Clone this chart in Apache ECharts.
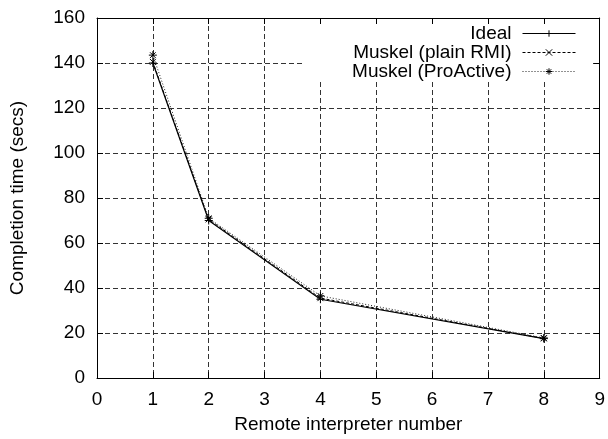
<!DOCTYPE html>
<html>
<head>
<meta charset="utf-8">
<script src="https://cdn.jsdelivr.net/npm/echarts@6/dist/echarts.min.js"></script>
<style>
  html, body { margin: 0; padding: 0; background: #fff; }
  #chart { width: 608px; height: 439px; }
</style>
</head>
<body>
<div id="chart"></div>
<script>
// remote interpreters used
var interpreters = [1, 2, 4, 8]
// completion times (secs)
var idealTimes = [140, 70, 35, 17.5]
var rmiTimes = [140.5, 70.5, 35.5, 17.6]
var proActiveTimes = [143.5, 71, 36.5, 17.8]

var seriesNames = ['Ideal', 'Muskel (plain RMI)', 'Muskel (ProActive)']

var FONT = '"Liberation Sans", Arial, Helvetica, sans-serif'
var FS = 19

function pairs(xs, ys) {
  return xs.map(function (x, i) { return [x, ys[i]] })
}

var chart = echarts.init(document.getElementById('chart'))

var gridLine = { show: true, lineStyle: { color: '#333', type: [5, 3], width: 1 } }
var tick = { show: true, inside: true, length: 6, lineStyle: { color: '#000' } }
var line = { show: true, onZero: false, lineStyle: { color: '#000', width: 1 } }

function legendAt(name, top) {
  return {
    data: [name],
    right: 32,
    top: top,
    padding: 0,
    align: 'right',
    itemWidth: 53,
    itemHeight: 8,
    z: 5,
    lineStyle: { width: 1 },
    itemStyle: { color: 'rgba(0,0,0,0)', borderColor: '#000', borderWidth: 1 },
    textStyle: { fontFamily: FONT, fontSize: FS, color: '#000', padding: [0, 6, 0, 0] }
  }
}

chart.setOption({
  animation: false,
  textStyle: { fontFamily: FONT },
  grid: { left: 97, right: 8, top: 18, bottom: 59, show: false },
  graphic: [{
    type: 'rect',
    z: 1,
    shape: { x: 302, y: 19, width: 290, height: 62 },
    style: { fill: '#fff' }
  }],
  legend: [
    legendAt(seriesNames[0], 24),
    legendAt(seriesNames[1], 43),
    legendAt(seriesNames[2], 62)
  ],
  xAxis: [{
    type: 'value',
    min: 0,
    max: 9,
    interval: 1,
    z: 0,
    name: 'Remote interpreter number',
    nameLocation: 'middle',
    nameGap: 37,
    nameTextStyle: { fontFamily: FONT, fontSize: FS, color: '#000' },
    axisLine: line,
    axisTick: tick,
    axisLabel: { margin: 12, fontFamily: FONT, fontSize: FS, color: '#000' },
    splitLine: gridLine
  }, {
    type: 'value',
    position: 'top',
    min: 0,
    max: 9,
    interval: 1,
    z: 3,
    axisLine: line,
    axisTick: tick,
    axisLabel: { show: false },
    splitLine: { show: false }
  }],
  yAxis: [{
    type: 'value',
    min: 0,
    max: 160,
    interval: 20,
    z: 0,
    name: 'Completion time (secs)',
    nameLocation: 'middle',
    nameGap: 70,
    nameTextStyle: { fontFamily: FONT, fontSize: FS, color: '#000' },
    axisLine: line,
    axisTick: tick,
    axisLabel: { margin: 12, fontFamily: FONT, fontSize: FS, color: '#000' },
    splitLine: gridLine
  }, {
    type: 'value',
    position: 'right',
    min: 0,
    max: 160,
    interval: 20,
    z: 3,
    axisLine: line,
    axisTick: tick,
    axisLabel: { show: false },
    splitLine: { show: false }
  }],
  series: [{
    name: seriesNames[0],
    type: 'line',
    data: pairs(interpreters, idealTimes),
    symbol: 'path://M0,5L10,5M5,0L5,10',
    symbolSize: 8,
    showAllSymbol: true,
    itemStyle: { color: 'rgba(0,0,0,0)', borderColor: '#000', borderWidth: 1 },
    lineStyle: { color: '#000', width: 1.2, type: 'solid' },
    z: 4
  }, {
    name: seriesNames[1],
    type: 'line',
    data: pairs(interpreters, rmiTimes),
    symbol: 'path://M0,0L10,10M10,0L0,10',
    symbolSize: 6,
    itemStyle: { color: 'rgba(0,0,0,0)', borderColor: '#000', borderWidth: 1 },
    lineStyle: { color: '#000', width: 1, type: [3, 2] },
    z: 4
  }, {
    name: seriesNames[2],
    type: 'line',
    data: pairs(interpreters, proActiveTimes),
    symbol: 'path://M0,5L10,5M5,0L5,10M1.5,1.5L8.5,8.5M8.5,1.5L1.5,8.5',
    symbolSize: 8,
    itemStyle: { color: 'rgba(0,0,0,0)', borderColor: '#000', borderWidth: 1 },
    lineStyle: { color: '#222', width: 1, type: [1, 2] },
    z: 4
  }]
})
</script>
</body>
</html>
